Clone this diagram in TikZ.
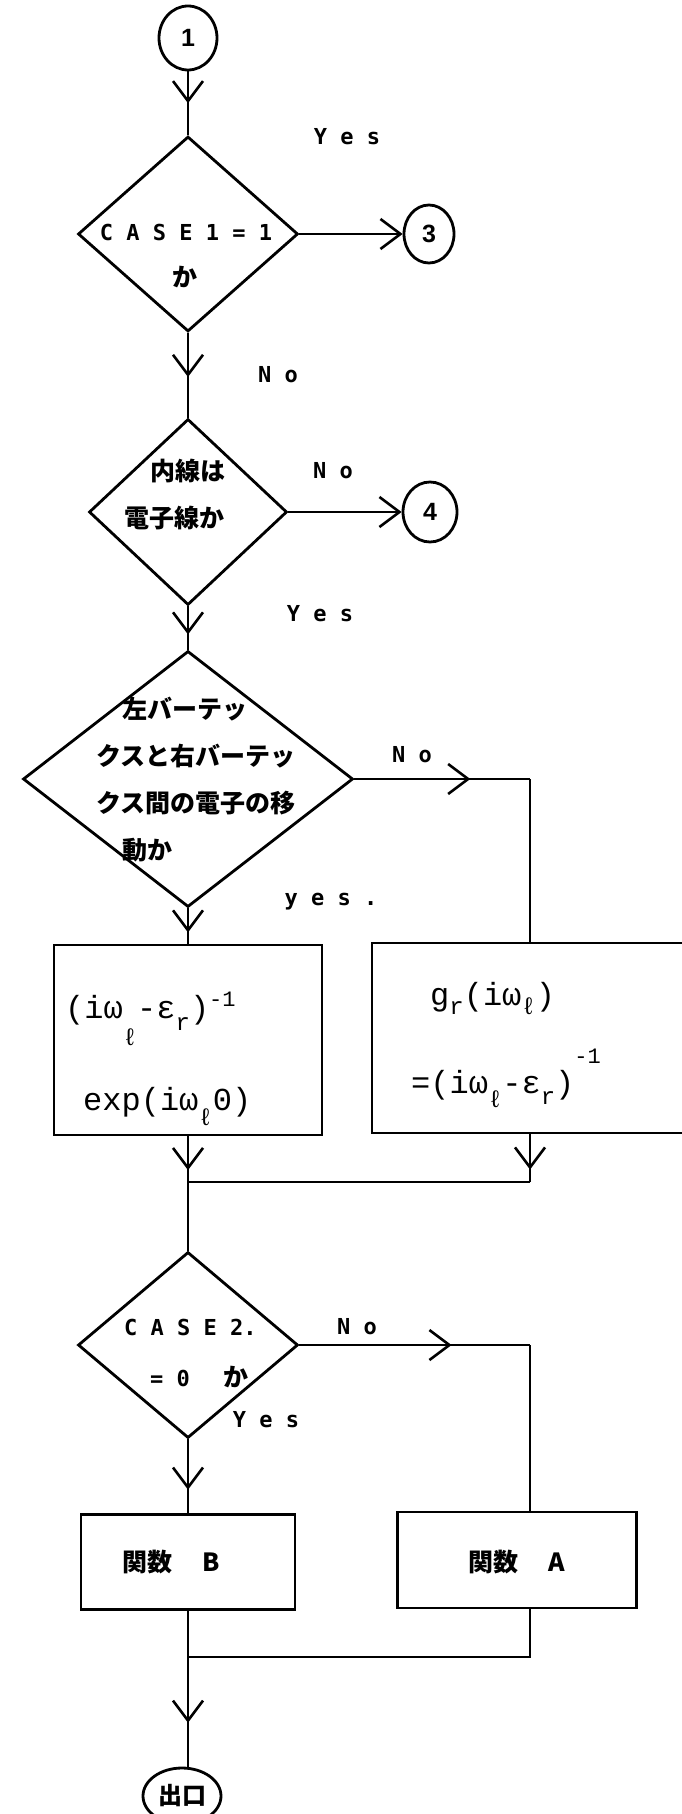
\documentclass[tikz,border=0pt]{standalone}
\usepackage{fontspec}
\setsansfont{Liberation Sans}
\newfontfamily\lblfont{DejaVu Sans Mono}
\newfontfamily\formfont{Liberation Mono}
\newfontfamily\jpfont{Noto Sans CJK JP}
\usetikzlibrary{arrows.meta, decorations.markings, shapes.geometric}

% 下付き・上付き
\newcommand{\dnsub}[2][10pt]{\raisebox{-#1}{\fontsize{24}{24}\selectfont #2}}
\newcommand{\upsup}[2][12pt]{\raisebox{#1}{\fontsize{22}{22}\selectfont #2}}

\begin{document}
\begin{tikzpicture}[x=1pt, y=-1pt,
    decision/.style={draw, diamond, line width=2.8pt, inner sep=0pt},
    connector/.style={draw, ellipse, line width=2.8pt, inner sep=0pt,
        font=\sffamily\bfseries\fontsize{25}{25}\selectfont},
    process/.style={draw, rectangle, line width=2.4pt, inner sep=0pt},
    flowline/.style={line width=2.6pt},
    vmark/.style={postaction={decorate}, decoration={markings,
        mark=at position #1 with {\arrow{Straight Barb[length=20pt,width=30pt]}}}},
    lbl/.style={font=\lblfont\bfseries\fontsize{22}{22}\selectfont, inner sep=0pt},
    jptext/.style={font=\jpfont\bfseries\fontsize{25}{47}\selectfont, inner sep=0pt, align=left},
    formula/.style={font=\formfont\fontsize{32}{32}\selectfont, inner sep=0pt, anchor=base west}]
    \useasboundingbox (0,0) rectangle (682,1814);
    \clip (0,0) rectangle (682,1814);

    % 結合子
    \node[connector, minimum width=58pt, minimum height=64pt] (c1) at (188,38) {1};
    \node[connector, minimum width=50pt, minimum height=58pt] (c3) at (429,234) {3};
    \node[connector, minimum width=54pt, minimum height=60pt] (c4) at (430,512) {4};
    \node[connector, minimum width=78pt, minimum height=56pt,
        font=\jpfont\bfseries\fontsize{24}{24}\selectfont] (exit) at (182,1796) {出口};

    % 判断
    \node[decision, minimum width=220pt, minimum height=195pt] (d1) at (188,234) {};
    \node[decision, minimum width=198pt, minimum height=186pt] (d2) at (188,512) {};
    \node[decision, minimum width=330pt, minimum height=256pt] (d3) at (188,779) {};
    \node[decision, minimum width=220pt, minimum height=186pt] (d4) at (188,1345) {};

    % 判断の文
    \node[lbl] (t1a) at (186,232) {C A S E 1 = 1};
    \node[jptext] (t1b) at (185,277) {か};
    \node[jptext, anchor=west] (t2) at (124,495) {\hspace*{26pt}内線は\\電子線か};
    \node[jptext, anchor=west] (t3) at (96,780)
        {\hspace*{26pt}左バーテッ\\クスと右バーテッ\\クス間の電子の移\\\hspace*{26pt}動か};
    \node[lbl, anchor=west] (t4a) at (124,1327) {C A S E 2.};
    \node[lbl, anchor=west] (t4b) at (150,1377) {= 0\hspace{34pt}{\jpfont\fontsize{25}{25}\selectfont か}};

    % 処理
    \node[process, minimum width=268pt, minimum height=190pt] (box1) at (188,1040) {};
    \node[process, minimum width=350pt, minimum height=190pt] (box2) at (547,1038) {};
    \node[process, minimum width=214pt, minimum height=95pt] (boxB) at (188,1562) {};
    \node[process, minimum width=239pt, minimum height=96pt] (boxA) at (517,1560) {};

    % 式
    \node[formula] (f1a) at (65,1018) {(iω\dnsub[27pt]{ℓ}-ε\dnsub[12pt]{r})\upsup[12pt]{-1}};
    \node[formula] (f1b) at (83,1110) {exp(iω\dnsub[15pt]{ℓ}0)};
    \node[formula] (f2a) at (430,1005) {g\dnsub[9pt]{r}(iω\dnsub[9pt]{ℓ})};
    \node[formula] (f2b) at (411,1093) {=(iω\dnsub[14pt]{ℓ}-ε\dnsub[11pt]{r})\upsup[30pt]{-1}};
    \node[jptext] (kb) at (171,1562) {関数\hspace{30pt}B};
    \node[jptext] (ka) at (517,1562) {関数\hspace{30pt}A};

    % Yes / No
    \node[lbl] (y1) at (347,137) {Y e s};
    \node[lbl] (n1) at (278,375) {N o};
    \node[lbl] (n2) at (333,471) {N o};
    \node[lbl] (y2) at (320,614) {Y e s};
    \node[lbl] (n3) at (412,755) {N o};
    \node[lbl] (y3) at (331,902) {y e s .};
    \node[lbl] (n4) at (357,1327) {N o};
    \node[lbl] (y4) at (266,1420) {Y e s};

    % 折れ点
    \coordinate (k3) at (530,779);
    \coordinate (k4) at (530,1345);
    \coordinate (j1) at (188,1182);
    \coordinate (j1r) at (530,1182);
    \coordinate (j2) at (188,1657);
    \coordinate (j2r) at (530,1657);

    % 流れ線
    \draw[flowline, vmark=0.5] (c1) -- (d1);
    \draw[flowline, -{Straight Barb[length=20pt,width=30pt]}] (d1.east) -- (c3);
    \draw[flowline, vmark=0.52] (d1) -- (d2);
    \draw[flowline, -{Straight Barb[length=20pt,width=30pt]}] (d2.east) -- (c4);
    \draw[flowline, vmark=0.65] (d2) -- (d3);
    \draw[flowline, vmark=0.66] (d3.east) -- (k3);
    \draw[flowline] (k3) -- (k3 |- box2.north);
    \draw[flowline, vmark=0.68] (d3) -- (box1);
    \draw[flowline, vmark=0.74] (box1) -- (j1);
    \draw[flowline, vmark=0.74] (box2.south -| j1r) -- (j1r);
    \draw[flowline] (j1r) -- (j1) -- (d4);
    \draw[flowline, vmark=0.66] (d4.east) -- (k4);
    \draw[flowline] (k4) -- (k4 |- boxA.north);
    \draw[flowline, vmark=0.68] (d4) -- (boxB);
    \draw[flowline] (boxB) -- (j2);
    \draw[flowline] (boxA.south -| j2r) -- (j2r) -- (j2);
    \draw[flowline, vmark=0.6] (j2) -- (j2 |- exit.north);
\end{tikzpicture}
\end{document}
